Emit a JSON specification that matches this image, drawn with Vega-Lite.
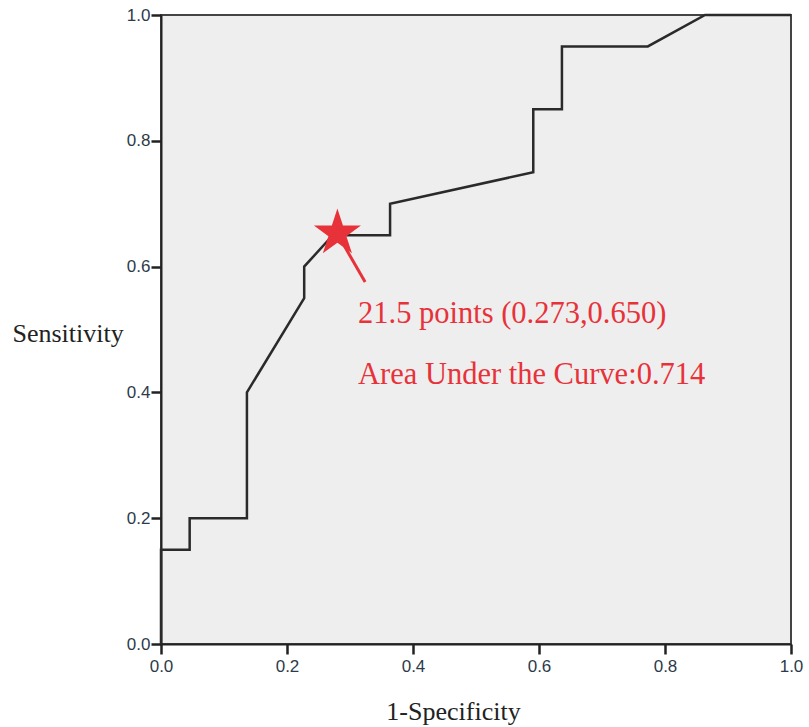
{
  "$schema": "https://vega.github.io/schema/vega-lite/v6.json",
  "width": 630,
  "height": 629,
  "autosize": {"type": "none"},
  "padding": {"left": 161, "top": 15, "right": 18, "bottom": 83},
  "background": "white",
  "config": {
    "view": {"fill": "#eeeeee", "stroke": "#444444", "strokeWidth": 2},
    "axis": {
      "grid": false,
      "domainColor": "#222222",
      "domainWidth": 2,
      "tickColor": "#222222",
      "tickWidth": 2.5,
      "tickSize": 10,
      "labelFlush": false,
      "labelFont": "Liberation Sans",
      "labelFontSize": 17,
      "labelColor": "#2e3a4a",
      "titleFont": "Liberation Serif",
      "titleFontSize": 26,
      "titleFontWeight": "normal",
      "titleColor": "#222222"
    }
  },
  "datasets": {
    "roc": [
      {"fpr": 0.0, "tpr": 0.0},
      {"fpr": 0.0, "tpr": 0.15},
      {"fpr": 0.0455, "tpr": 0.15},
      {"fpr": 0.0455, "tpr": 0.2},
      {"fpr": 0.1364, "tpr": 0.2},
      {"fpr": 0.1364, "tpr": 0.4},
      {"fpr": 0.2273, "tpr": 0.55},
      {"fpr": 0.2273, "tpr": 0.6},
      {"fpr": 0.2727, "tpr": 0.65},
      {"fpr": 0.3636, "tpr": 0.65},
      {"fpr": 0.3636, "tpr": 0.7},
      {"fpr": 0.5909, "tpr": 0.75},
      {"fpr": 0.5909, "tpr": 0.85},
      {"fpr": 0.6364, "tpr": 0.85},
      {"fpr": 0.6364, "tpr": 0.95},
      {"fpr": 0.7727, "tpr": 0.95},
      {"fpr": 0.8636, "tpr": 1.0},
      {"fpr": 1.0, "tpr": 1.0}
    ]
  },
  "layer": [
    {
      "data": {"name": "roc"},
      "mark": {"type": "line", "color": "#2a2a2a", "strokeWidth": 2.5, "interpolate": "linear"},
      "encoding": {
        "x": {"field": "fpr", "type": "quantitative", "sort": null,
              "scale": {"domain": [0, 1], "nice": false},
              "axis": {"title": "1-Specificity", "values": [0, 0.2, 0.4, 0.6, 0.8, 1.0], "format": ".1f",
                       "labelPadding": 4, "titleX": 292, "titleY": 67, "titleBaseline": "middle", "titleAlign": "center"}},
        "y": {"field": "tpr", "type": "quantitative",
              "scale": {"domain": [0, 1], "nice": false},
              "axis": {"title": "Sensitivity", "values": [0, 0.2, 0.4, 0.6, 0.8, 1.0], "format": ".1f",
                       "labelPadding": 1, "titleAngle": 0, "titleX": -149, "titleY": 318,
                       "titleAlign": "left", "titleBaseline": "middle"}}
      }
    },
    {
      "data": {"values": [{"x1": 0.324, "y1": 0.5755, "x2": 0.284, "y2": 0.645}]},
      "mark": {"type": "rule", "color": "#e8323a", "strokeWidth": 3},
      "encoding": {
        "x": {"field": "x1", "type": "quantitative"},
        "y": {"field": "y1", "type": "quantitative"},
        "x2": {"field": "x2"},
        "y2": {"field": "y2"}
      }
    },
    {
      "data": {"values": [{"x": 0.28, "y": 0.653}]},
      "mark": {"type": "point", "filled": true, "color": "#e8323a", "opacity": 1, "size": 2450,
               "shape": "M0,-1L0.2245,-0.309L0.951,-0.309L0.363,0.118L0.588,0.809L0,0.382L-0.588,0.809L-0.363,0.118L-0.951,-0.309L-0.2245,-0.309Z"},
      "encoding": {
        "x": {"field": "x", "type": "quantitative"},
        "y": {"field": "y", "type": "quantitative"}
      }
    },
    {
      "data": {"values": [
        {"x": 0.3127, "y": 0.5103, "label": "21.5 points (0.273,0.650)"},
        {"x": 0.3127, "y": 0.4134, "label": "Area Under the Curve:0.714"}
      ]},
      "mark": {"type": "text", "align": "left", "baseline": "alphabetic", "font": "Liberation Serif", "fontSize": 30.5, "color": "#e8323a"},
      "encoding": {
        "x": {"field": "x", "type": "quantitative"},
        "y": {"field": "y", "type": "quantitative"},
        "text": {"field": "label"}
      }
    }
  ]
}
